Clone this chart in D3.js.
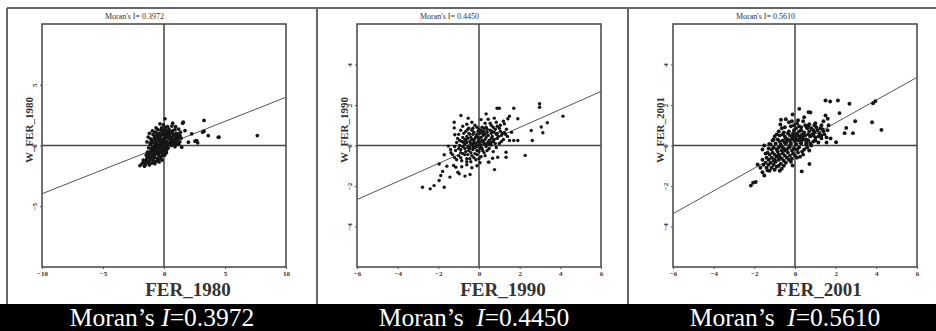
<!DOCTYPE html>
<html>
<head>
<meta charset="utf-8">
<script src="https://cdn.jsdelivr.net/npm/d3@7"></script>
<style>
  body { margin: 0; background: #fff; }
  svg { display: block; }
</style>
</head>
<body>
<div id="chart"></div>
<script>
// --- data ---
const years = ['1980', '1990', '2001'];
const moranI = [0.3972, 0.4450, 0.5610];
const axisMax = [10, 6, 6];
const xTicks = [[-10, -5, 0, 5, 10], [-6, -4, -2, 0, 2, 4, 6], [-6, -4, -2, 0, 2, 4, 6]];
const yTicks = [[-5, 0, 5], [-4, -2, 0, 2, 4], [-4, -2, 0, 2, 4]];

// [FER, W_FER] pairs
const pts1980 = [
  [7.65,0.82],[3.28,2.06],[0.08,2.2],[1.58,1.92],[0.71,1.84],[-0.33,1.78],[3.28,1.18],[3.63,0.82],
  [4.51,0.69],[2.54,0.36],[2.76,0.22],[2.0,0.27],[2.27,0.96],[1.72,1.23],[1.31,0.82],[1.45,-0.14],
  [1.17,0.14],[-1.97,-1.65],[-1.7,-1.37],[-1.42,-1.1],[3.17,1.09],[4.45,0.68],[1.53,1.84],[2.68,0.41],
  [-0.9,0.9],[-0.7,1.1],[-0.5,1.3],[-0.2,1.45],[0.1,1.5],[0.4,1.35],[0.7,1.2],[1.0,1.0],[1.2,0.7],
  [-0.8,0.6],[-0.6,0.8],[-0.4,1.0],[-0.1,1.1],[0.2,1.2],[0.5,1.0],[0.8,0.85],[1.1,0.5],[-0.7,0.4],
  [-0.5,0.55],[-0.3,0.7],[0.0,0.85],[0.3,0.9],[0.6,0.7],[0.9,0.6],[-0.6,0.2],[-0.4,0.35],[-0.2,0.45],
  [0.1,0.6],[0.4,0.55],[0.7,0.4],[1.0,0.3],[-0.3,0.15],[0.0,0.3],[0.2,0.35],[0.5,0.25],[0.8,0.15],
  [0.95,0.05],[0.3,0.05],[0.6,0.0],[-0.1,0.05],
  [-0.8,-0.1],[-0.5,-0.05],[-0.2,-0.1],[0.1,-0.15],[0.35,-0.2],[-1.0,-0.3],[-0.7,-0.25],[-0.4,-0.3],
  [-0.1,-0.35],[0.2,-0.4],[-1.1,-0.5],[-0.85,-0.45],[-0.6,-0.55],[-0.3,-0.55],[0.0,-0.6],[-1.2,-0.7],
  [-0.95,-0.75],[-0.7,-0.7],[-0.45,-0.8],[-0.2,-0.85],[0.05,-0.8],[-1.3,-0.9],[-1.05,-0.95],[-0.8,-1.0],
  [-0.55,-1.05],[-0.3,-1.1],[-1.4,-1.1],[-1.15,-1.2],[-0.9,-1.2],[-0.65,-1.3],[-0.4,-1.35],[-1.25,-1.4],
  [-1.0,-1.45],[-0.75,-1.5],[-1.55,-1.3],[-1.5,-1.55],[-1.2,-1.6],[-1.8,-1.5],[-1.6,-1.7],[-0.15,-1.2],
  [-0.55,0.05],[-0.35,-0.15],[-0.15,0.25],[0.15,0.15],[0.05,-0.3],[-0.25,-0.4],[0.25,0.7],[0.45,0.8],
  [-0.45,0.6],[0.65,0.55],[0.85,0.35],[-0.9,0.25],[-0.95,-0.15],[0.15,0.95],[-0.35,0.85],[0.55,1.15],
  [0.3,1.55],[-0.05,1.7],[0.9,1.3],[1.15,0.95],
  [-1.4,0.3],[-1.3,0.7],[-1.2,1.0],[-1.1,0.1],[-1.25,-0.2],[1.3,0.3],[1.4,0.6],[1.35,1.1],[1.2,1.35],
  [0.95,1.55],[0.65,1.6],[-0.65,1.45],[-0.95,1.2],[-1.1,0.55],[-0.25,1.25],[0.35,1.15],[0.75,0.95],
  [0.05,1.3],[-0.55,0.95],[-0.75,0.75],[1.05,0.75],[0.15,0.75],[-0.15,0.9],[0.4,0.2],[0.7,0.2],[1.2,0.1],
  [-0.75,0.05],[-1.0,0.4],[-0.35,0.45],[0.55,0.45],[-0.05,0.55],[-0.6,-0.35],[-0.9,-0.6],[-1.35,-0.55],
  [-0.45,-0.6],[-0.15,-0.55],[0.25,-0.1],[-0.1,-0.7],[-1.1,-1.0],[-0.5,-1.2],[-1.35,-1.3],[-0.85,-1.35],
  [-1.7,-1.2],[-1.45,-0.8],[-0.25,-0.95],[0.2,-0.6],[-0.8,-0.85],[-0.6,-0.15],[-1.15,0.2],[0.9,-0.1]
];

const pts1990 = [
  [2.98,2.06],[2.98,1.89],[4.13,1.45],[3.36,1.12],[3.06,0.91],[3.14,0.63],[2.57,0.74],[2.62,0.25],
  [2.27,-0.49],[1.91,0.25],[1.71,0.25],[1.71,1.84],[1.91,1.32],[0.89,1.84],[1.0,1.84],[0.35,1.56],
  [-0.89,1.48],[-0.53,1.35],[-1.22,1.15],[-1.22,0.87],[-1.19,0.53],[0.1,1.28],[1.42,1.32],[1.5,1.45],
  [1.25,1.07],[1.33,-0.33],[1.33,-0.58],[0.92,-0.58],[0.67,-0.63],[0.46,-0.82],[0.76,-1.19],[0.18,-0.25],
  [-2.78,-2.06],[-2.4,-2.14],[-2.21,-1.98],[-1.71,-2.06],[-1.96,-1.73],[-1.88,-1.48],[-1.79,-1.28],
  [-1.43,-1.56],[-1.25,-0.99],[-1.14,-1.07],[-0.97,-1.4],[-0.69,-1.51],[-0.44,-1.43],[-1.58,-1.02],
  [-1.96,-0.91],[-1.71,-0.46],[-1.38,-0.36],[-1.51,-0.03],[-1.04,-1.32],[0.49,-0.82],
  [-0.6,1.05],[-0.2,1.0],[0.3,1.1],[0.6,1.0],[0.9,0.95],[1.2,1.2],[0.45,1.3],[0.75,1.35],
  [-0.9,0.75],[-0.55,0.8],[-0.3,0.85],[0.0,0.8],[0.25,0.85],[0.55,0.75],[0.8,0.8],[1.05,0.7],[1.35,0.8],[1.6,0.65],
  [-1.0,0.55],[-0.75,0.6],[-0.5,0.6],[-0.25,0.65],[0.05,0.6],[0.3,0.55],[0.6,0.6],[0.85,0.55],[1.1,0.5],[1.4,0.45],
  [-1.05,0.35],[-0.8,0.4],[-0.6,0.45],[-0.4,0.4],[-0.15,0.45],[0.1,0.4],[0.35,0.4],[0.6,0.35],[0.9,0.35],[1.2,0.3],[1.5,0.25],
  [-1.1,0.15],[-0.85,0.2],[-0.65,0.25],[-0.45,0.2],[-0.25,0.25],[-0.05,0.2],[0.2,0.2],[0.45,0.15],[0.7,0.2],[1.0,0.1],
  [-1.2,-0.05],[-0.95,0.0],[-0.7,0.05],[-0.5,-0.02],[-0.3,0.05],[-0.1,-0.05],[0.1,0.0],[0.35,-0.05],[0.6,0.02],[0.85,-0.1],
  [-1.15,-0.25],[-0.9,-0.2],[-0.7,-0.15],[-0.5,-0.25],[-0.3,-0.2],[-0.1,-0.25],[0.15,-0.15],[0.4,-0.25],[0.7,-0.3],
  [-1.3,-0.45],[-1.0,-0.5],[-0.8,-0.4],[-0.55,-0.45],[-0.35,-0.5],[-0.1,-0.45],[0.1,-0.55],[0.3,-0.5],
  [-1.1,-0.7],[-0.85,-0.75],[-0.6,-0.65],[-0.4,-0.8],[-0.15,-0.7],[0.05,-0.85],
  [-0.85,-1.05],[-0.6,-0.95],[-0.35,-1.1],[-0.1,-1.0],
  [-0.6,0.15],[-0.4,0.1],[-0.2,0.35],[0.0,0.3],[0.2,0.5],[-0.3,-0.05],[-0.15,0.1],[0.05,0.15],[0.25,0.7],
  [0.45,0.5],[-0.45,0.55],[-0.7,0.3],[0.5,0.05],[-0.55,-0.1],[-0.8,-0.05],[0.3,0.3],[0.15,0.9],[-0.05,0.7],
  [0.65,0.45],[0.75,0.65],
  [-0.65,0.7],[-0.35,0.75],[-0.1,0.9],[0.15,0.7],[0.4,0.8],[0.7,0.9],[1.0,0.85],[1.15,0.6],[0.95,0.45],
  [0.75,0.3],[0.5,0.25],[0.25,0.1],[0.0,0.05],[-0.2,-0.1],[-0.45,-0.12],[-0.65,-0.3],[-0.4,-0.35],
  [-0.2,-0.4],[0.0,-0.3],[0.25,-0.35],[0.5,-0.15],[0.2,0.6],[-0.1,0.55],[-0.35,0.3],[-0.55,0.35],
  [0.4,0.65],[0.6,0.15],[0.8,0.1],[1.1,0.2],[1.3,0.55],[-0.25,0.15],[-0.05,0.4],[0.15,0.25],[0.35,0.05],
  [-0.7,-0.45],[-0.9,-0.35],[-0.95,0.25],[-0.75,0.15],[-1.0,-0.15],[-0.5,0.85],[0.55,1.1],[0.85,1.15],
  [1.05,1.0],[-0.8,0.95],[-0.35,1.15],[-0.9,-0.6],[-0.6,-0.8],[-0.25,-0.6],[0.0,-0.65],[-0.45,-0.65],
  [-1.2,-0.6],[-1.4,-0.2],[-0.3,0.55],[0.1,0.75],[0.35,0.9],[0.65,0.7],[0.9,0.6],[1.25,0.65],[0.05,-0.15],[-0.15,-0.05]
];

const pts2001 = [
  [1.5,2.22],[1.73,2.17],[2.11,2.22],[2.68,2.06],[3.84,2.09],[3.95,2.19],[2.19,1.6],[2.96,1.2],[3.79,1.15],
  [4.25,0.77],[2.52,0.87],[2.85,0.61],[2.44,0.61],[2.02,0.16],[1.5,1.48],[1.61,1.32],[0.21,1.81],[0.66,1.65],
  [0.76,1.63],[-0.12,1.53],[-0.69,1.27],[-0.72,1.04],[0.33,-1.28],[0.71,-0.91],[-0.12,-0.99],
  [-2.17,-1.98],[-2.06,-1.84],[-1.93,-1.8],[-1.84,-0.94],[-1.6,-1.32],[-1.51,-1.48],[-1.35,-1.23],[-1.51,0.0],[-1.27,0.08],
  [-0.3,1.15],[0.1,1.1],[0.4,1.2],[0.7,1.05],[1.0,1.1],[1.3,1.0],
  [-0.5,0.9],[-0.2,0.95],[0.05,0.85],[0.3,0.9],[0.55,0.95],[0.8,0.85],[1.05,0.9],[1.35,0.8],[1.6,0.75],
  [-0.8,0.7],[-0.55,0.65],[-0.3,0.7],[-0.05,0.75],[0.2,0.7],[0.45,0.65],[0.7,0.7],[0.95,0.65],[1.2,0.6],[1.45,0.55],
  [-1.0,0.45],[-0.75,0.5],[-0.5,0.45],[-0.25,0.5],[0.0,0.5],[0.25,0.45],[0.5,0.5],[0.75,0.45],[1.0,0.4],[1.3,0.35],[1.55,0.4],
  [-1.1,0.25],[-0.85,0.3],[-0.6,0.25],[-0.35,0.3],[-0.1,0.3],[0.15,0.25],[0.4,0.3],[0.65,0.25],[0.9,0.2],[1.15,0.15],
  [-1.2,0.05],[-0.95,0.1],[-0.7,0.05],[-0.45,0.1],[-0.2,0.1],[0.05,0.05],[0.3,0.1],[0.55,0.05],[0.8,0.0],
  [-1.3,-0.15],[-1.05,-0.1],[-0.8,-0.1],[-0.55,-0.15],[-0.3,-0.1],[-0.05,-0.15],[0.2,-0.1],[0.45,-0.2],[0.7,-0.25],
  [-1.35,-0.35],[-1.1,-0.35],[-0.85,-0.3],[-0.6,-0.4],[-0.35,-0.35],[-0.1,-0.4],[0.15,-0.35],[0.4,-0.45],
  [-1.4,-0.6],[-1.15,-0.6],[-0.9,-0.55],[-0.65,-0.65],[-0.4,-0.6],[-0.15,-0.65],[0.1,-0.6],
  [-1.45,-0.85],[-1.2,-0.85],[-0.95,-0.8],[-0.7,-0.9],[-0.45,-0.85],[-0.2,-0.8],
  [-1.4,-1.1],[-1.15,-1.1],[-0.9,-1.05],[-0.65,-1.15],[-1.7,-1.1],
  [-0.4,0.2],[-0.15,0.4],[0.1,0.6],[0.35,0.55],[-0.65,-0.05],[-0.5,-0.25],[-0.25,0.0],[0.0,0.2],[0.25,0.35],
  [0.55,0.3],[-0.8,-0.45],[-1.0,-0.7],[0.6,0.85],[0.85,0.55],[1.1,0.75],[-0.1,0.6],[-0.45,0.35],[0.2,0.95],
  [1.65,1.0],[1.75,0.35],[1.4,1.2],[0.45,1.4],[-0.45,1.3],
  [-0.6,0.55],[-0.35,0.6],[-0.1,0.45],[0.15,0.5],[0.4,0.45],[0.65,0.55],[0.9,0.5],[1.15,0.45],[1.4,0.7],
  [1.25,0.85],[0.95,1.0],[0.5,1.0],[0.15,1.25],[-0.15,1.2],[-0.65,0.85],[-0.9,0.55],[-1.05,0.3],[-0.75,0.2],
  [-0.5,0.15],[-0.25,0.25],[0.05,0.35],[0.3,0.2],[0.55,0.15],[0.75,0.1],[1.0,0.25],[1.3,0.5],[-1.15,-0.2],
  [-0.9,-0.2],[-0.65,-0.25],[-0.4,-0.2],[-0.15,-0.25],[0.1,-0.2],[0.35,-0.3],[0.6,-0.1],[-1.25,-0.45],
  [-1.0,-0.45],[-0.75,-0.55],[-0.5,-0.5],[-0.25,-0.5],[0.0,-0.5],[0.25,-0.55],[-1.3,-0.7],[-1.05,-0.75],
  [-0.8,-0.7],[-0.55,-0.75],[-0.3,-0.7],[-1.55,-0.95],[-1.3,-0.95],[-1.05,-0.95],[-0.8,-1.0],[-0.55,-1.0],
  [-1.25,-1.25],[-1.0,-1.2],[-0.75,-1.25],[-1.6,-0.7],[-1.45,-0.4],[-1.6,-0.2],[0.9,0.75],[0.65,0.95],
  [1.55,0.15],[-0.05,1.0],[0.3,0.75]
];
const points = [pts1980, pts1990, pts2001];

// --- layout ---
const W = 936, H = 331;
const plotLeft = [42, 357, 673];
const plotTop = 24, plotW = 244, plotH = 243;
const dotR = [1.85, 1.7, 1.95];
const barCenter = [162, 474, 785];
const serif = '"Liberation Serif", "DejaVu Serif", serif';

const svg = d3.select('#chart').append('svg')
  .attr('width', W)
  .attr('height', H)
  .style('font-family', serif);

// outer frame lines
const frame = svg.append('g').attr('stroke', '#666').attr('stroke-width', 2);
frame.append('line').attr('x1', 7).attr('x2', W).attr('y1', 8).attr('y2', 8);
[7, 317, 628].forEach(x => {
  frame.append('line').attr('x1', x).attr('x2', x).attr('y1', 8).attr('y2', 304);
});

years.forEach((yr, i) => {
  const m = axisMax[i];
  const x = d3.scaleLinear().domain([-m, m]).range([plotLeft[i], plotLeft[i] + plotW]);
  const y = d3.scaleLinear().domain([-m, m]).range([plotTop + plotH, plotTop]);
  const g = svg.append('g');

  // plot box
  g.append('rect')
    .attr('x', x(-m)).attr('y', y(m))
    .attr('width', plotW).attr('height', plotH)
    .attr('fill', 'none').attr('stroke', '#444').attr('stroke-width', 1.5);

  // quadrant lines
  g.append('line').attr('x1', x(0)).attr('x2', x(0)).attr('y1', y(m)).attr('y2', y(-m))
    .attr('stroke', '#444').attr('stroke-width', 1.5);
  g.append('line').attr('x1', x(-m)).attr('x2', x(m)).attr('y1', y(0)).attr('y2', y(0))
    .attr('stroke', '#444').attr('stroke-width', 1.5);

  // x axis ticks
  const xAx = g.append('g')
    .attr('transform', `translate(0,${plotTop + plotH})`)
    .call(d3.axisBottom(x).tickValues(xTicks[i]).tickSize(2).tickPadding(2).tickFormat(d3.format('d')));
  xAx.select('.domain').remove();
  xAx.selectAll('line').attr('stroke', '#555');
  xAx.selectAll('text').attr('font-size', 7).attr('font-weight', 'bold')
    .attr('fill', '#333').attr('font-family', serif);

  // y axis ticks (labels rotated)
  const yAx = g.append('g')
    .attr('transform', `translate(${plotLeft[i]},0)`)
    .call(d3.axisLeft(y).tickValues(yTicks[i]).tickSize(2).tickFormat(d3.format('d')));
  yAx.select('.domain').remove();
  yAx.selectAll('line').attr('stroke', '#555');
  yAx.selectAll('text')
    .attr('font-size', 7).attr('font-weight', 'bold').attr('fill', '#333')
    .attr('font-family', serif)
    .attr('text-anchor', 'middle')
    .attr('x', null).attr('dy', null)
    .attr('transform', 'translate(-5,0) rotate(-90)');

  // regression line, slope = Moran's I
  g.append('line')
    .attr('x1', x(-m)).attr('y1', y(-m * moranI[i]))
    .attr('x2', x(m)).attr('y2', y(m * moranI[i]))
    .attr('stroke', '#555').attr('stroke-width', 1);

  // points
  g.append('g').selectAll('circle')
    .data(points[i])
    .join('circle')
    .attr('cx', d => x(d[0]))
    .attr('cy', d => y(d[1]))
    .attr('r', dotR[i])
    .attr('fill', '#151515');

  // small title
  g.append('text')
    .attr('x', x(0)).attr('y', 19)
    .attr('text-anchor', 'end')
    .attr('font-size', 8).attr('fill', '#333')
    .text(`Moran's I= ${moranI[i].toFixed(4)}`);

  // axis labels
  g.append('text')
    .attr('x', x(0) + 24).attr('y', 296)
    .attr('text-anchor', 'middle')
    .attr('font-size', 19).attr('font-weight', 'bold').attr('fill', '#333')
    .text(`FER_${yr}`);

  g.append('text')
    .attr('transform', `translate(${plotLeft[i] - 13},130) rotate(-90)`)
    .attr('text-anchor', 'middle')
    .attr('dy', '0.35em')
    .attr('font-size', 11).attr('font-weight', 'bold').attr('fill', '#333')
    .text(`W_FER_${yr}`);
});

// bottom black caption band
svg.append('rect').attr('x', 0).attr('y', 304).attr('width', W).attr('height', H - 304).attr('fill', '#000');

const caps = svg.selectAll('.cap')
  .data(moranI)
  .join('text')
  .attr('class', 'cap')
  .attr('x', (d, i) => barCenter[i])
  .attr('y', 326)
  .attr('text-anchor', 'middle')
  .attr('font-size', 25.5)
  .attr('fill', '#fff');
caps.append('tspan').text('Moran\u2019s ');
caps.append('tspan').attr('font-style', 'italic').attr('dx', (d, i) => i === 0 ? 0 : 6).text('I');
caps.append('tspan').text(d => '=' + d.toFixed(4));
</script>
</body>
</html>
